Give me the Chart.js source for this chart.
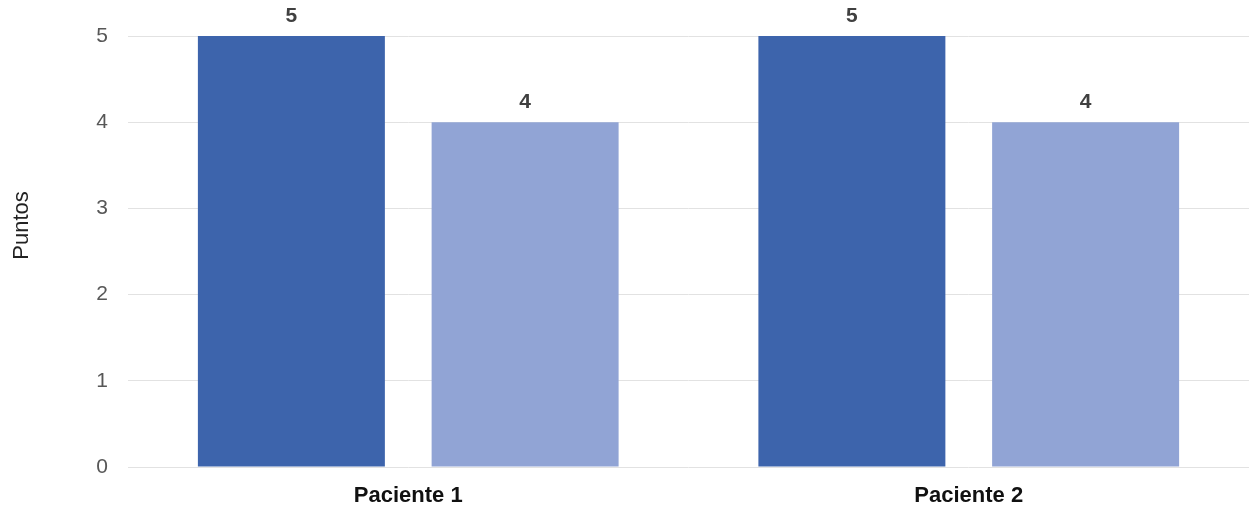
<!DOCTYPE html>
<html>
<head>
<meta charset="utf-8">
<script src="https://cdn.jsdelivr.net/npm/chart.js@4"></script>
<style>
  html, body { margin: 0; padding: 0; background: #fff; }
  #wrap { width: 1249px; height: 509px; position: relative; }
</style>
</head>
<body>
<div id="wrap"><canvas id="c"></canvas></div>
<script>
// Points per patient, two series
const categories = ['Paciente 1', 'Paciente 2'];
const serieA = [5, 5];
const serieB = [4, 4];
const yTicks = [0, 1, 2, 3, 4, 5];
const yTitle = 'Puntos';

const FONT = "'Liberation Sans', Arial, sans-serif";

// Writes each bar's value just above it
const valueLabels = {
  id: 'valueLabels',
  afterDatasetsDraw(chart) {
    const ctx = chart.ctx;
    ctx.save();
    ctx.font = 'bold 21px ' + FONT;
    ctx.fillStyle = '#404040';
    ctx.textAlign = 'center';
    ctx.textBaseline = 'alphabetic';
    chart.data.datasets.forEach((ds, i) => {
      chart.getDatasetMeta(i).data.forEach((bar, j) => {
        ctx.fillText(String(ds.data[j]), bar.x, bar.y - 14);
      });
    });
    ctx.restore();
  }
};

// Vertical axis title, set a little above the middle of the plot
const axisTitle = {
  id: 'axisTitle',
  afterDraw(chart) {
    const { ctx, chartArea } = chart;
    const cy = (chartArea.top + chartArea.bottom) / 2 - 26;
    ctx.save();
    ctx.translate(22, cy);
    ctx.rotate(-Math.PI / 2);
    ctx.font = '22px ' + FONT;
    ctx.fillStyle = '#222222';
    ctx.textAlign = 'center';
    ctx.textBaseline = 'middle';
    ctx.fillText(yTitle, 0, 0);
    ctx.restore();
  }
};

new Chart(document.getElementById('c'), {
  type: 'bar',
  data: {
    labels: categories,
    datasets: [
      { data: serieA, backgroundColor: '#3d64ac', barPercentage: 0.8, categoryPercentage: 0.834 },
      { data: serieB, backgroundColor: '#91a4d5', barPercentage: 0.8, categoryPercentage: 0.834 }
    ]
  },
  options: {
    responsive: true,
    maintainAspectRatio: false,
    animation: false,
    layout: { padding: { top: 36, right: 0, left: 0, bottom: 0 } },
    plugins: { legend: { display: false }, tooltip: { enabled: false } },
    scales: {
      x: {
        grid: { display: false, drawTicks: false },
        border: { display: false },
        ticks: { color: '#111111', font: { family: FONT, size: 22, weight: 'bold' }, padding: 16 },
        afterFit(scale) { scale.height = 42; }
      },
      y: {
        min: 0,
        max: 5,
        afterBuildTicks(scale) { scale.ticks = yTicks.map(v => ({ value: v })); },
        grid: { color: '#e2e2e2', lineWidth: 1, drawTicks: false },
        border: { display: false },
        ticks: { color: '#575757', font: { family: FONT, size: 21 }, padding: 20 },
        afterFit(scale) { scale.width = 128; }
      }
    }
  },
  plugins: [valueLabels, axisTitle]
});
</script>
</body>
</html>
